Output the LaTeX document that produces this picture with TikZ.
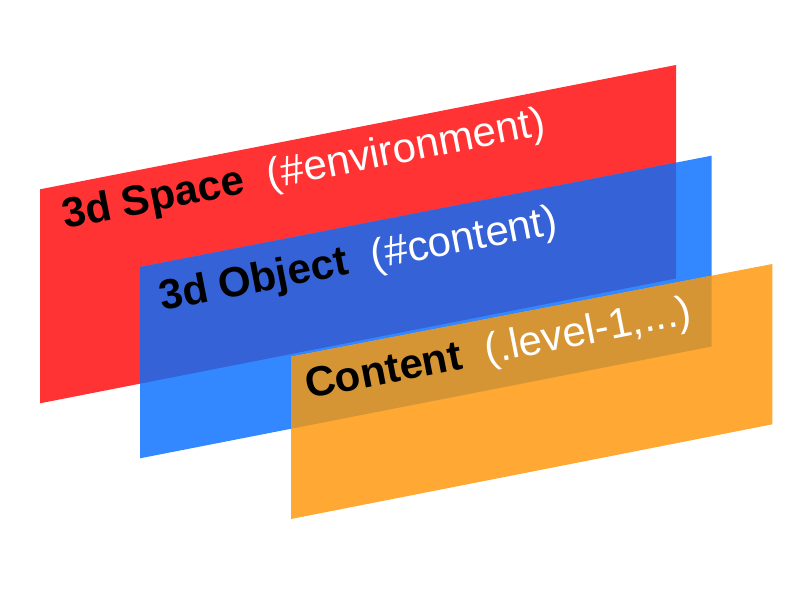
\documentclass[tikz,border=0pt]{standalone}
\usepackage{fontspec}
\setmainfont{Liberation Sans}
\definecolor{cred}{HTML}{FF3333}
\definecolor{cblue}{HTML}{3388FF}
\definecolor{cdblue}{HTML}{3562D6}
\definecolor{corange}{HTML}{FFA833}
\definecolor{cdorange}{HTML}{D69535}
\begin{document}
\begin{tikzpicture}[x=1pt,y=-1pt,
  lbl/.style={anchor=base west,inner sep=0pt,rotate=11.1,font=\fontsize{42}{46}\selectfont}]
\useasboundingbox (0,0) rectangle (800,600);
\def\redp{(40,189.3) -- (676,65) -- (676,278.5) -- (40,403.3) -- cycle}
\def\bluep{(140,267) -- (711.5,155.7) -- (711.5,346.5) -- (140,458.3) -- cycle}
\def\orangep{(291,356.7) -- (772.3,264) -- (772.3,424.3) -- (291,519) -- cycle}
\fill[cred] \redp;
\fill[cblue] \bluep;
\begin{scope}
  \clip \bluep;
  \fill[cdblue] \redp;
\end{scope}
\fill[corange] \orangep;
\begin{scope}
  \clip \orangep;
  \fill[cdorange] \bluep;
\end{scope}
\node[lbl] (space) at (65,229) {\textbf{3d Space}\hspace{24pt}\textcolor{white}{(\#environment)}};
\node[lbl] (object) at (162,311) {\textbf{3d Object}\hspace{24pt}\textcolor{white}{(\#content)}};
\node[lbl] (content) at (308,399) {\textbf{Content}\hspace{24pt}\textcolor{white}{(.level-1,...)}};
\end{tikzpicture}
\end{document}
